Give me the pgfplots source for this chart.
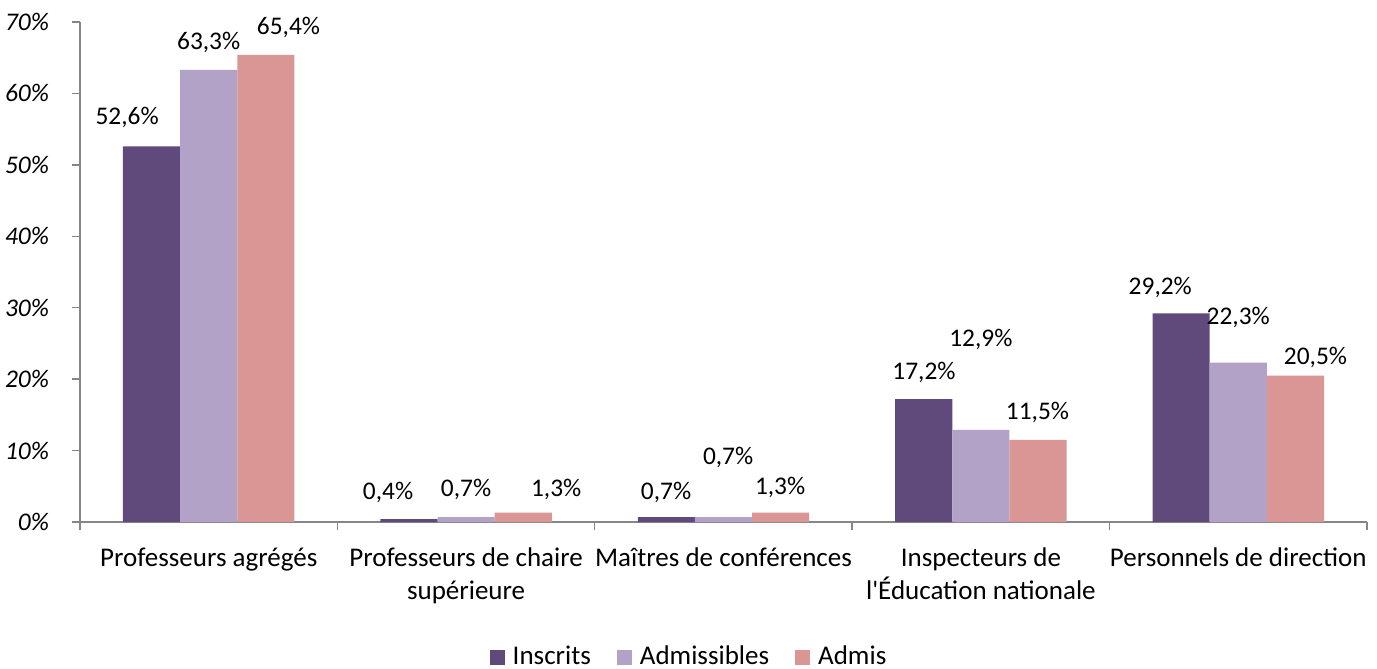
\documentclass[border=0pt]{standalone}
\usepackage{fontspec}
\setmainfont{Carlito}
\usepackage{pgfplots}
\usepackage{pgfplotstable}
\pgfplotsset{compat=1.18}

\definecolor{inscrits}{RGB}{96,74,123}
\definecolor{admissibles}{RGB}{179,162,199}
\definecolor{admis}{RGB}{217,150,148}
\definecolor{axisgray}{RGB}{134,134,134}
\newcommand\lbl{\fontsize{12.7}{15}\selectfont}
\newcommand\cat{\fontsize{13.5}{16.5}\selectfont}

% bar heights, one row per category
\pgfplotstableread{
x inscrits admissibles admis
0 52.6 63.3 65.4
1 0.4  0.7  1.3
2 0.7  0.7  1.3
3 17.2 12.9 11.5
4 29.2 22.3 20.5
}\bars

% value labels, placed where the reference puts them
\pgfplotstableread{
x     y    lbl
-0.317 56.7 52,6
0.000  67.1 63,3
0.310  69.2 65,4
0.697  4.1  0,4
1.000  4.5  0,7
1.350  4.5  1,3
1.777  4.1  0,7
2.018  9.1  0,7
2.220  4.9  1,3
2.779  20.9 17,2
3.000  25.5 12,9
3.220  15.3 11,5
3.697  32.8 29,2
4.000  28.7 22,3
4.300  23.1 20,5
}\labels

\pgfplotsset{barsq/.style={ybar, bar width=0.222, bar shift=#1, draw=none,
  legend image code/.code={\fill[##1] (0pt,-3.75pt) rectangle (7.5pt,3.75pt);
    \path (9.5pt,0pt);}}}

\begin{document}
\begin{tikzpicture}
\begin{axis}[
  scale only axis, width=643.5pt, height=250pt,
  xmin=-0.5, xmax=4.5, ymin=0, ymax=70,
  axis x line=bottom, axis y line=left,
  axis line style={-, axisgray, line width=0.7pt},
  xtick={-0.5,0.5,...,4.5}, x tick label as interval,
  xticklabels={Professeurs agrégés, {Professeurs de chaire\\supérieure},
    Maîtres de conférences, {Inspecteurs de\\l\textquotesingle Éducation nationale},
    Personnels de direction},
  xticklabel style={align=center, font=\cat, yshift=-5.5pt},
  ytick={0,10,...,70},
  yticklabels={0\%,10\%,20\%,30\%,40\%,50\%,60\%,70\%},
  yticklabel style={font=\lbl\itshape, xshift=-8pt},
  tick align=outside, major tick length=4pt,
  tick style={axisgray, line width=0.7pt},
  legend style={at={(0.474,-0.27)}, anchor=center, draw=none, font=\cat,
    legend columns=-1, /tikz/every even column/.append style={column sep=11pt}},
  clip=false,
]
\addplot[barsq=-0.222, fill=inscrits] table[x=x, y=inscrits] {\bars};
\addplot[barsq=0, fill=admissibles] table[x=x, y=admissibles] {\bars};
\addplot[barsq=0.222, fill=admis] table[x=x, y=admis] {\bars};
\addplot[forget plot, only marks, mark=none, point meta=explicit symbolic,
  nodes near coords={\pgfplotspointmeta\%},
  nodes near coords style={anchor=center, font=\lbl, inner sep=0pt}]
  table[x=x, y=y, meta=lbl] {\labels};
\legend{Inscrits, Admissibles, Admis}
\end{axis}
\pgfresetboundingbox
\path[use as bounding box] (-40pt,-73.5pt) rectangle (648.5pt,261pt);
\end{tikzpicture}
\end{document}
